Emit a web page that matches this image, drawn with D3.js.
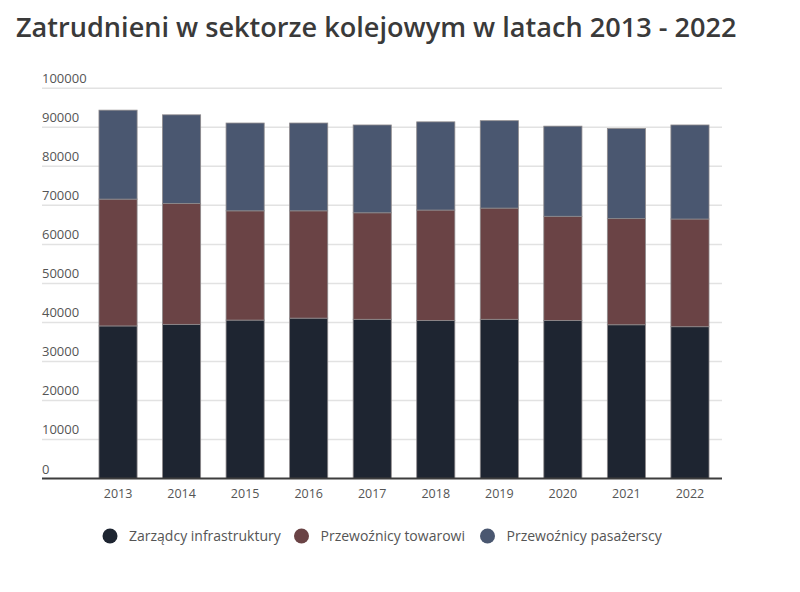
<!DOCTYPE html>
<html>
<head>
<meta charset="utf-8">
<script src="https://cdn.jsdelivr.net/npm/d3@7"></script>
<style>
  body { margin: 0; background: #fff; }
  svg text { font-family: "Open Sans", "Noto Sans", sans-serif; }
</style>
</head>
<body>
<div id="chart"></div>
<script>
const years = ['2013','2014','2015','2016','2017','2018','2019','2020','2021','2022'];
const zarzadcy = [39100, 39500, 40600, 41100, 40800, 40500, 40800, 40500, 39400, 38900];
const towarowi = [32500, 31000, 28000, 27500, 27300, 28300, 28500, 26700, 27200, 27600];
const pasazerscy = [22800, 22700, 22500, 22500, 22500, 22600, 22400, 23100, 23100, 24100];
const seriesNames = ['Zarządcy infrastruktury', 'Przewoźnicy towarowi', 'Przewoźnicy pasażerscy'];
const yTicks = [0, 10000, 20000, 30000, 40000, 50000, 60000, 70000, 80000, 90000, 100000];

const width = 800, height = 592;
const colors = ['#1e2531', '#6a4345', '#4a5770'];

const svg = d3.select('#chart').append('svg')
    .attr('width', width)
    .attr('height', height);

// title
const title = svg.append('text')
    .attr('x', 16)
    .attr('y', 37)
    .attr('fill', '#3a3a3a')
    .attr('font-weight', 600)
    .attr('font-size', 26)
    .text('Zatrudnieni w sektorze kolejowym w latach 2013 - 2022');
// fit the title width to the original one
let tw = title.node().getComputedTextLength();
title.attr('font-size', 26 * 721 / tw);

const gridLeft = 42, gridRight = 722;

const x = d3.scaleBand()
    .domain(years)
    .range([67.2, 740.8])
    .paddingInner(0.4)
    .paddingOuter(0.5);

const y = d3.scaleLinear()
    .domain([0, 100000])
    .range([478.5, 88.3]);

// grid + y labels
svg.append('g').selectAll('line')
    .data(yTicks.filter(d => d > 0))
    .enter().append('line')
    .attr('x1', gridLeft).attr('x2', gridRight)
    .attr('y1', d => y(d)).attr('y2', d => y(d))
    .attr('stroke', '#e2e2e2')
    .attr('stroke-width', 1.5);

svg.append('g').selectAll('text')
    .data(yTicks)
    .enter().append('text')
    .attr('x', gridLeft)
    .attr('y', d => y(d) - 5)
    .attr('font-size', 13)
    .attr('fill', '#555')
    .text(d => d);

// stacked bars
const rows = years.map((yr, i) => ({ year: yr, a: zarzadcy[i], b: towarowi[i], c: pasazerscy[i] }));
const stack = d3.stack().keys(['a', 'b', 'c']);
const layers = stack(rows);

svg.append('g').selectAll('g')
    .data(layers)
    .enter().append('g')
    .attr('fill', (d, i) => colors[i])
    .selectAll('rect')
    .data(d => d)
    .enter().append('rect')
    .attr('x', d => x(d.data.year))
    .attr('y', d => y(d[1]))
    .attr('width', x.bandwidth())
    .attr('height', d => y(d[0]) - y(d[1]))
    .attr('stroke', '#8e8a8c')
    .attr('stroke-width', 0.8);

// x axis
const xAxis = d3.axisBottom(x).tickSize(0).tickPadding(11);
const gx = svg.append('g')
    .attr('transform', `translate(0, ${y(0)})`)
    .call(xAxis);
gx.select('.domain').remove();
gx.selectAll('text')
    .attr('font-size', 12.5)
    .attr('fill', '#555')
    .style('font-family', '"Open Sans", sans-serif');

svg.append('line')
    .attr('x1', gridLeft).attr('x2', gridRight)
    .attr('y1', y(0)).attr('y2', y(0))
    .attr('stroke', '#3d3d3d')
    .attr('stroke-width', 2);

// legend
const legendX = [110, 301.5, 487.5];
const legend = svg.append('g').selectAll('g')
    .data(seriesNames)
    .enter().append('g')
    .attr('transform', (d, i) => `translate(${legendX[i]}, 536)`);
legend.append('circle')
    .attr('r', 7.5)
    .attr('fill', (d, i) => colors[i]);
legend.append('text')
    .attr('x', 19)
    .attr('y', 5)
    .attr('font-size', 14)
    .attr('fill', '#555')
    .text(d => d);
</script>
</body>
</html>
